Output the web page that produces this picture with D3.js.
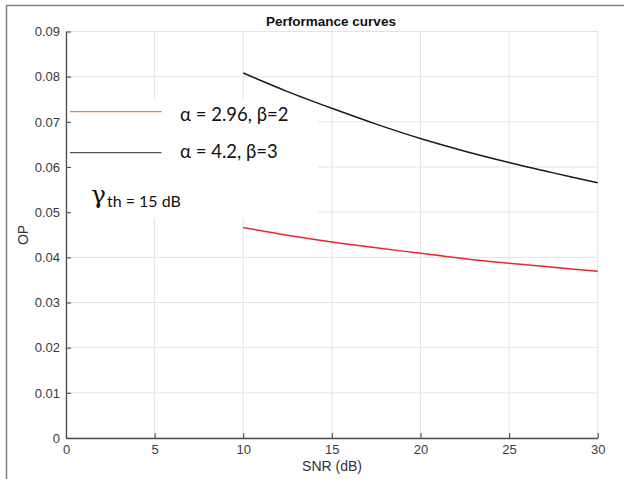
<!DOCTYPE html>
<html><head><meta charset="utf-8">
<script src="https://cdn.jsdelivr.net/npm/d3@7"></script>
<style>body{margin:0;background:#fff}svg{display:block}</style>
</head><body>
<svg id="c" width="624" height="479"></svg>
<script>
const snr = [10, 12.5, 15, 17.5, 20, 22.5, 25, 27.5, 30];
const opRed = [0.0466, 0.0449, 0.0434, 0.0421, 0.0409, 0.0397, 0.0387, 0.0378, 0.0369];
const opBlack = [0.0808, 0.0767, 0.0730, 0.0695, 0.0663, 0.0635, 0.0610, 0.0587, 0.0565];
const xTicks = [0, 5, 10, 15, 20, 25, 30];
const yTicks = [0, 0.01, 0.02, 0.03, 0.04, 0.05, 0.06, 0.07, 0.08, 0.09];
const legendLabels = ["α = 2.96, β=2", "α = 4.2, β=3"];

const svg = d3.select("#c");
const x = d3.scaleLinear().domain([0, 30]).range([66, 597.7]);
const y = d3.scaleLinear().domain([0, 0.09]).range([438, 31.5]);

// outer frame (top and left)
svg.append("line").attr("x1",6).attr("x2",624).attr("y1",5.5).attr("y2",5.5).attr("stroke","#858585").attr("stroke-width",1.6);
svg.append("line").attr("x1",6.5).attr("x2",6.5).attr("y1",5).attr("y2",479).attr("stroke","#858585").attr("stroke-width",1.6);

// grid
const grid = svg.append("g").attr("stroke","#e3e3e3").attr("stroke-width",1);
grid.selectAll(".gx").data(xTicks).join("line")
  .attr("x1",d=>x(d)).attr("x2",d=>x(d)).attr("y1",y(0)).attr("y2",y(0.09));
grid.selectAll(".gy").data(yTicks).join("line")
  .attr("x1",x(0)).attr("x2",x(30)).attr("y1",d=>y(d)).attr("y2",d=>y(d));

// legend background box (covers grid)
svg.append("rect").attr("x",68).attr("y",99).attr("width",250).attr("height",119).attr("fill","#fff");

// axes
const xAxis = d3.axisBottom(x).tickValues(xTicks).tickFormat(d3.format("d")).tickSizeInner(-5).tickSizeOuter(0).tickPadding(7);
const yAxis = d3.axisLeft(y).tickValues(yTicks).tickFormat(d=> d===0 ? "0" : d3.format(".2f")(d)).tickSizeInner(-5).tickSizeOuter(0).tickPadding(6);
const gx = svg.append("g").attr("transform",`translate(0,${y(0)})`).call(xAxis);
const gy = svg.append("g").attr("transform",`translate(${x(0)},0)`).call(yAxis);
[gx, gy].forEach(g=>{
  g.select(".domain").attr("stroke","#4d4d4d").attr("stroke-width",1.3);
  g.selectAll(".tick line").attr("stroke","#4d4d4d").attr("stroke-width",1.1);
  g.selectAll(".tick text").attr("fill","#3a3a3a").attr("font-family","'Liberation Sans', Arial, sans-serif").attr("font-size",13);
});

// curves
const line = d3.line().x((d,i)=>x(snr[i])).y(d=>y(d)).curve(d3.curveCatmullRom);
svg.append("path").datum(opBlack).attr("d",line).attr("fill","none").attr("stroke","#1a1a1a").attr("stroke-width",1.5);
svg.append("path").datum(opRed).attr("d",line).attr("fill","none").attr("stroke","#e8262b").attr("stroke-width",1.5);

// title and labels
svg.append("text").attr("x",331).attr("y",25.5).attr("text-anchor","middle")
  .attr("font-family","'Liberation Sans', Arial, sans-serif").attr("font-weight","bold").attr("font-size",13.5).attr("fill","#111")
  .text("Performance curves");
svg.append("text").attr("x",332).attr("y",471).attr("text-anchor","middle")
  .attr("font-family","'Liberation Sans', Arial, sans-serif").attr("font-size",14).attr("fill","#333").text("SNR (dB)");
svg.append("text").attr("transform","translate(28,235) rotate(-90)").attr("text-anchor","middle")
  .attr("font-family","'Liberation Sans', Arial, sans-serif").attr("font-size",14).attr("fill","#333").text("OP");

// legend
const legColors = ["#e0813f", "#555555"];
const legY = [111.7, 152.7];
const legTY = [121, 158];
legendLabels.forEach((t,i)=>{
  svg.append("line").attr("x1",70).attr("x2",161.5).attr("y1",legY[i]).attr("y2",legY[i]).attr("stroke",legColors[i]).attr("stroke-width",1.2);
  svg.append("text").attr("x",180).attr("y",legTY[i]).attr("font-family","Lato, 'Open Sans', sans-serif").attr("font-size",18.5).attr("fill","#111").text(t);
});
const ann = svg.append("text").attr("x",91).attr("y",203).attr("fill","#111");
ann.append("tspan").attr("font-family","'DejaVu Serif', serif").attr("font-size",25).text("γ");
ann.append("tspan").attr("font-family","Lato, 'Open Sans', sans-serif").attr("font-size",16).attr("dy",4).attr("dx",1).text("th = 15 dB");
</script>
</body></html>
